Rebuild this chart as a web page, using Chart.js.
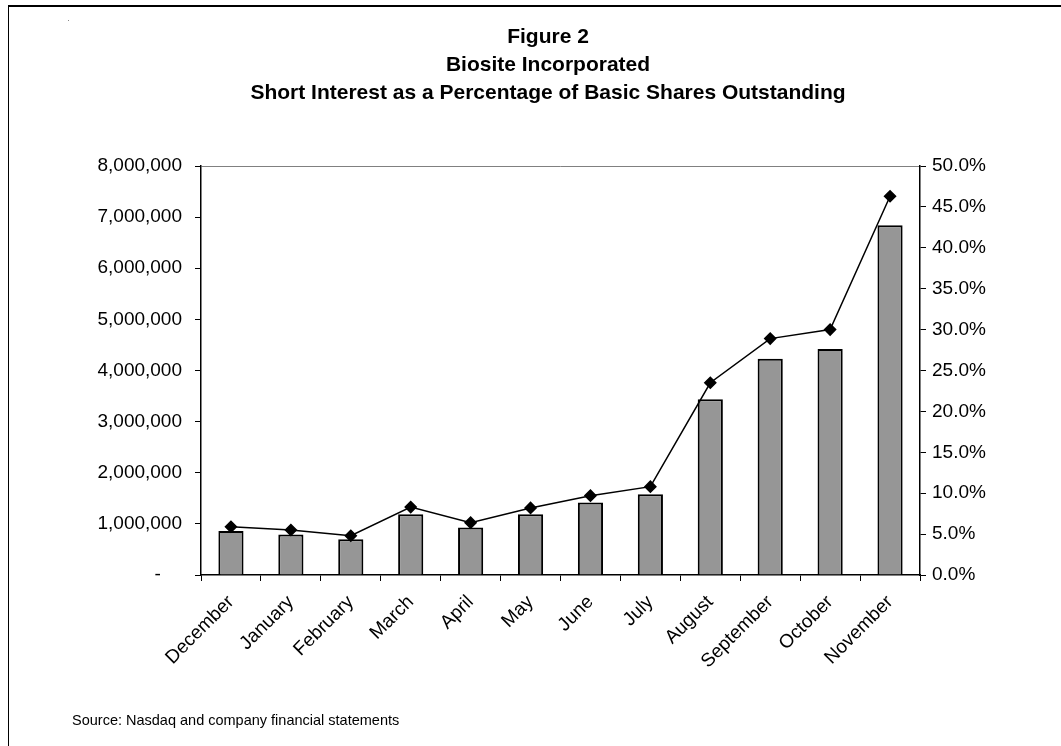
<!DOCTYPE html>
<html>
<head>
<meta charset="utf-8">
<script src="https://cdn.jsdelivr.net/npm/chart.js@4/dist/chart.umd.min.js"></script>
<style>
  html, body { margin: 0; padding: 0; background: #fff; }
  body { width: 1061px; height: 746px; position: relative; overflow: hidden; font-family: 'Liberation Sans', Arial, sans-serif; }
  #frame { position: absolute; left: 8px; top: 5px; width: 1100px; height: 800px; border-top: 2px solid #000; border-left: 1px solid #000; }
  #dot { position: absolute; left: 68px; top: 20px; width: 1px; height: 1px; background: #888; }
  #chart { position: absolute; left: 0; top: 0; }
  #source { position: absolute; left: 72px; top: 712px; font-size: 14.5px; color: #000; }
</style>
</head>
<body>
<div id="frame"></div>
<div id="dot"></div>
<canvas id="chart" width="1061" height="746"></canvas>
<div id="source">Source: Nasdaq and company financial statements</div>
<script>
// figure 2 - short interest (bars, left axis) and % of basic shares (line, right axis)
const months = ['December', 'January', 'February', 'March', 'April', 'May', 'June',
                'July', 'August', 'September', 'October', 'November'];
const shortInterest = [860000, 790000, 700000, 1190000, 930000, 1190000, 1420000,
                       1580000, 3440000, 4230000, 4420000, 6840000];
const pctOfShares = [5.9, 5.5, 4.8, 8.3, 6.4, 8.2, 9.7, 10.8, 23.5, 28.9, 30.0, 46.3];
const titleLines = ['Figure 2', 'Biosite Incorporated',
                    'Short Interest as a Percentage of Basic Shares Outstanding'];

const FONT = "'Liberation Sans', Arial, sans-serif";

new Chart(document.getElementById('chart'), {
    type: 'bar',
    data: {
        labels: months,
        datasets: [
            {
                type: 'line',
                label: 'Short interest %',
                data: pctOfShares,
                yAxisID: 'y2',
                borderColor: '#000',
                borderWidth: 1.5,
                backgroundColor: '#000',
                pointStyle: 'rectRot',
                pointRadius: 5.5,
                pointBackgroundColor: '#000',
                pointBorderColor: '#000',
                tension: 0,
                order: 0
            },
            {
                label: 'Short interest',
                data: shortInterest,
                yAxisID: 'y',
                backgroundColor: '#969696',
                borderColor: '#000',
                borderWidth: 2,
                categoryPercentage: 1,
                barPercentage: 0.42,
                order: 1
            }
        ]
    },
    options: {
        responsive: false,
        animation: false,
        layout: { padding: { left: 35, right: 0, top: 0, bottom: 71 } },
        plugins: {
            legend: { display: false },
            tooltip: { enabled: false },
            title: {
                display: true,
                text: titleLines,
                color: '#000',
                font: { family: FONT, size: 21, weight: 'bold', lineHeight: 28 / 21 },
                padding: { top: 23, bottom: 59 }
            }
        },
        scales: {
            x: {
                offset: true,
                afterFit: s => { s.height = 100; },
                grid: { offset: true, drawOnChartArea: false, tickLength: 6, color: '#000', tickColor: '#000' },
                border: { color: '#000', width: 1.5 },
                ticks: {
                    color: '#000',
                    font: { family: FONT, size: 19 },
                    minRotation: 45,
                    maxRotation: 45,
                    padding: 10,
                    autoSkip: false
                }
            },
            y: {
                position: 'left',
                min: 0,
                max: 8000000,
                afterFit: s => { s.width = 166; },
                grid: {
                    drawOnChartArea: true,
                    color: c => (c.tick && c.tick.value === 8000000) ? '#808080' : 'rgba(0,0,0,0)',
                    tickColor: '#000',
                    tickLength: 6
                },
                border: { color: '#000', width: 1.5 },
                ticks: {
                    stepSize: 1000000,
                    color: '#000',
                    padding: 13,
                    font: { family: FONT, size: 19 },
                    callback: v => v === 0 ? '-    ' : v.toLocaleString('en-US')
                }
            },
            y2: {
                position: 'right',
                min: 0,
                max: 50,
                afterFit: s => { s.width = 141; },
                grid: { drawOnChartArea: false, tickColor: '#000', tickLength: 6 },
                border: { color: '#000', width: 1.5 },
                ticks: {
                    stepSize: 5,
                    color: '#000',
                    padding: 6,
                    font: { family: FONT, size: 19 },
                    callback: v => v.toFixed(1) + '%'
                }
            }
        }
    }
});
</script>
</body>
</html>
